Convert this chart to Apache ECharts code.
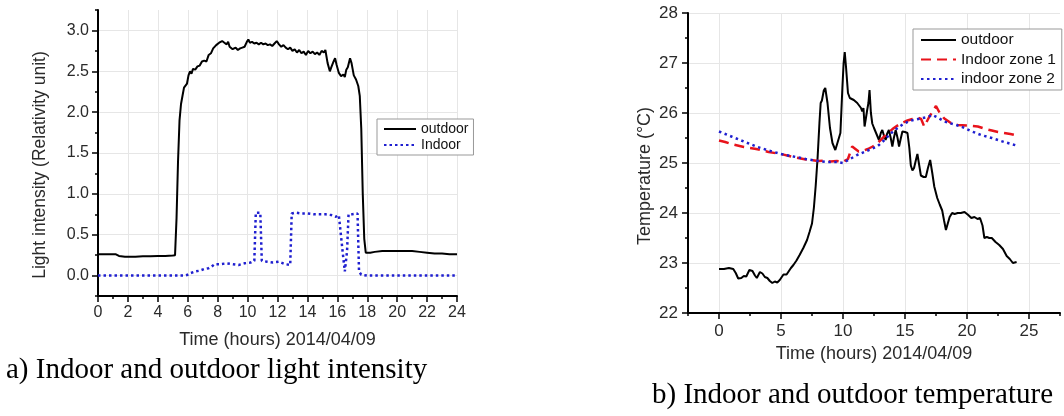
<!DOCTYPE html>
<html><head><meta charset="utf-8">
<script src="https://cdn.jsdelivr.net/npm/echarts@6/dist/echarts.min.js"></script>
<style>html,body{margin:0;padding:0;background:#fff}#c{width:1064px;height:416px}</style>
</head><body><div id="c"></div>
<script>
// ---- Data (hours, value) ----
const lightOutdoor = [
[0,0.26],[0.5,0.26],[1.0,0.26],[1.2,0.26],[1.4,0.24],[1.8,0.23],[2.5,0.23],[3,0.235],[3.5,0.235],[4,0.24],[4.5,0.24],[5.0,0.245],[5.15,0.25],
[5.25,0.7],[5.35,1.4],[5.45,1.9],[5.55,2.1],[5.65,2.2],[5.75,2.3],[5.85,2.28],[5.95,2.35],[6.05,2.45],[6.15,2.5],[6.25,2.47],[6.35,2.53],[6.5,2.52],
[6.65,2.56],[6.8,2.57],[6.95,2.62],[7.1,2.63],[7.25,2.62],[7.4,2.7],[7.55,2.72],[7.7,2.78],[7.8,2.76],[7.9,2.82],[8.0,2.8],[8.1,2.85],[8.2,2.83],
[8.3,2.87],[8.45,2.85],[8.6,2.83],[8.7,2.86],[8.8,2.8],[9.0,2.77],[9.2,2.79],[9.35,2.76],[9.5,2.78],[9.65,2.79],[9.8,2.8],[9.95,2.86],[10.05,2.89],
[10.15,2.85],[10.3,2.86],[10.45,2.84],[10.6,2.85],[10.75,2.83],[10.9,2.85],[11.05,2.83],[11.2,2.84],[11.35,2.82],[11.5,2.83],[11.65,2.81],[11.8,2.84],
[11.95,2.87],[12.1,2.83],[12.25,2.8],[12.4,2.82],[12.55,2.79],[12.7,2.77],[12.85,2.79],[13.0,2.75],[13.15,2.77],[13.3,2.73],[13.45,2.76],[13.6,2.72],
[13.75,2.74],[13.9,2.7],[14.05,2.75],[14.2,2.72],[14.35,2.74],[14.5,2.71],[14.65,2.73],[14.8,2.7],[14.95,2.75],[15.1,2.73],[15.2,2.76],[15.35,2.6],
[15.5,2.5],[15.6,2.55],[15.75,2.62],[15.85,2.66],[15.95,2.58],[16.1,2.48],[16.25,2.44],[16.4,2.46],[16.5,2.43],[16.6,2.52],[16.7,2.55],[16.85,2.66],
[16.95,2.6],[17.1,2.45],[17.25,2.4],[17.4,2.32],[17.5,2.2],[17.6,1.8],[17.7,1.0],[17.8,0.45],[17.9,0.28],[18.0,0.26],[18.2,0.28],[18.5,0.29],
[19.0,0.3],[19.5,0.3],[20.0,0.3],[20.5,0.3],[21.0,0.3],[21.5,0.29],[22.0,0.28],[22.5,0.27],[23.0,0.27],[23.5,0.26],[24,0.26]
];
const lightIndoor = [
[0,0],[1,0],[2,0],[3,0],[4,0],[5,0],[5.8,0],[6.0,0.01],[6.2,0.03],[6.5,0.05],[6.8,0.06],[7.1,0.08],[7.4,0.09],[7.6,0.11],[7.8,0.14],[8.2,0.14],
[8.6,0.15],[9.0,0.14],[9.4,0.13],[9.8,0.15],[10.2,0.16],[10.45,0.18],[10.55,0.77],[10.85,0.77],[10.95,0.18],[11.3,0.17],[11.7,0.16],[12.1,0.17],
[12.5,0.14],[12.85,0.13],[12.95,0.76],[13.2,0.77],[13.6,0.76],[14.0,0.76],[14.4,0.75],[14.8,0.75],[15.2,0.75],[15.6,0.74],[15.9,0.72],[16.1,0.74],
[16.2,0.74],[16.35,0.3],[16.5,0.05],[16.65,0.3],[16.75,0.75],[17.0,0.75],[17.35,0.76],[17.45,0.05],[17.6,0.01],[18,0],[19,0],[20,0],[21,0],[22,0],[23,0],[24,0]
];
const tempOutdoor = [
[0,22.88],[0.4,22.88],[0.8,22.9],[1.15,22.88],[1.35,22.8],[1.55,22.69],[1.8,22.7],[2.0,22.74],[2.2,22.73],[2.45,22.86],[2.7,22.84],[2.9,22.75],
[3.05,22.7],[3.3,22.82],[3.5,22.79],[3.7,22.72],[3.9,22.7],[4.1,22.64],[4.3,22.6],[4.5,22.63],[4.7,22.61],[4.9,22.66],[5.2,22.77],[5.45,22.77],
[5.6,22.8],[5.8,22.9],[6.0,22.96],[6.25,23.05],[6.5,23.16],[6.8,23.3],[7.1,23.46],[7.3,23.62],[7.5,23.79],[7.65,24.1],[7.8,24.55],[7.95,25.1],
[8.1,25.8],[8.2,26.2],[8.3,26.25],[8.45,26.45],[8.57,26.5],[8.75,26.2],[8.95,25.7],[9.15,25.4],[9.38,25.26],[9.55,25.4],[9.79,25.6],[9.95,26.5],
[10.05,27.0],[10.14,27.22],[10.25,26.9],[10.4,26.4],[10.55,26.3],[10.7,26.32],[10.87,26.26],[11.0,26.3],[11.15,26.2],[11.28,26.19],
[11.45,26.1],[11.55,26.03],[11.65,26.1],[11.74,25.73],[11.85,25.9],[11.95,26.06],[12.05,26.2],[12.14,26.46],[12.25,26.0],[12.36,25.79],[12.5,25.7],
[12.63,25.66],[12.9,25.46],[13.05,25.6],[13.17,25.66],[13.3,25.55],[13.44,25.46],[13.55,25.58],[13.7,25.66],[13.85,25.5],[13.98,25.33],[14.1,25.5],
[14.25,25.66],[14.4,25.5],[14.52,25.33],[14.65,25.48],[14.79,25.63],[15.0,25.62],[15.2,25.6],[15.35,25.3],[15.47,24.95],[15.6,24.85],[15.73,24.9],
[15.87,25.05],[16.0,25.18],[16.15,24.95],[16.28,24.75],[16.5,24.72],[16.68,24.72],[16.85,24.9],[17.03,25.06],[17.2,24.8],[17.36,24.53],[17.6,24.3],
[17.8,24.17],[18.0,24.05],[18.15,23.85],[18.3,23.66],[18.45,23.7],[18.6,23.92],[18.8,24.0],[19.0,23.98],[19.25,24.0],[19.5,24.0],[19.8,24.02],
[20.1,23.96],[20.35,23.9],[20.6,23.92],[20.85,23.88],[21.05,23.9],[21.25,23.75],[21.4,23.5],[21.6,23.52],[21.8,23.5],[22.0,23.5],[22.3,23.42],
[22.6,23.36],[22.9,23.28],[23.2,23.14],[23.45,23.08],[23.7,23.0],[23.85,22.99],[24.0,23.02]
];
const tempZone1 = [
[0,25.45],[0.5,25.42],[1,25.38],[2,25.32],[3,25.28],[4,25.22],[5,25.18],[6,25.12],[7,25.07],[8,25.04],[8.5,25.05],[9,25.03],[9.5,25.04],[10,25.02],
[10.4,25.08],[10.74,25.33],[11.0,25.28],[11.26,25.23],[11.6,25.24],[12,25.28],[12.4,25.33],[12.76,25.39],[13.2,25.5],[13.57,25.59],[14.1,25.7],
[14.65,25.79],[15.2,25.85],[15.6,25.88],[16.0,25.91],[16.3,25.88],[16.55,25.73],[16.95,25.92],[17.5,26.14],[17.8,26.0],[18.17,25.89],[18.7,25.8],
[19.25,25.76],[20,25.75],[20.87,25.73],[21.5,25.68],[22,25.65],[22.5,25.62],[23,25.6],[23.5,25.58],[24,25.55]
];
const tempZone2 = [
[0,25.63],[1,25.53],[2,25.43],[3,25.33],[4,25.25],[5,25.18],[6,25.13],[7,25.08],[8,25.04],[8.7,25.02],[9.52,25.02],[10,25.0],[10.5,25.07],[11.14,25.16],
[12,25.25],[12.76,25.33],[13.3,25.45],[13.84,25.59],[14.4,25.7],[14.92,25.79],[15.5,25.85],[16.28,25.89],[16.8,25.92],[17.22,25.96],[17.7,25.9],
[18.17,25.83],[19.52,25.73],[20.3,25.64],[21.14,25.56],[22,25.5],[23,25.42],[24,25.35]
];
const lightYMajorTicks = [0, 0.5, 1.0, 1.5, 2.0, 2.5, 3.0];
const tempXMajorTicks = [0, 5, 10, 15, 20, 25];
const lightLegend = ['outdoor', 'Indoor'];
const tempLegend = ['outdoor', 'Indoor zone 1', 'indoor zone 2'];
const captionA = 'a) Indoor and outdoor light intensity';
const captionB = 'b) Indoor and outdoor temperature';
const xName = 'Time (hours) 2014/04/09';
const lightYName = 'Light intensity (Relativity unit)';
const tempYName = 'Temperature (°C)';

// ---- Styling ----
const SANS = "'Liberation Sans', Arial, sans-serif";
const SERIF = "'Liberation Serif', 'Times New Roman', serif";
const TXT = '#2a2a2a';
const GRID = '#e6e6e6';
const axLine = { show: true, onZero: false, lineStyle: { color: '#000', width: 2 } };

const chart = echarts.init(document.getElementById('c'), null, { renderer: 'canvas' });
chart.setOption({
  animation: false,
  backgroundColor: '#fff',
  textStyle: { fontFamily: SANS },
  grid: [
    { left: 98, top: 10, width: 359, height: 286 },
    { left: 688, top: 13, width: 372, height: 300 }
  ],
  xAxis: [
    { type: 'value', gridIndex: 0, min: 0, max: 24, interval: 2,
      axisLine: axLine,
      axisTick: { show: true, length: 6, lineStyle: { color: '#000', width: 1.5 } },
      minorTick: { show: true, splitNumber: 2, length: 3, lineStyle: { color: '#000', width: 1.5 } },
      axisLabel: { fontSize: 16, color: TXT, margin: 9, fontFamily: SANS },
      splitLine: { show: true, lineStyle: { color: GRID, width: 1 } },
      name: xName, nameLocation: 'middle', nameGap: 35,
      nameTextStyle: { fontSize: 18, color: TXT, fontFamily: SANS } },
    { type: 'value', gridIndex: 1, min: -2.5, max: 27.5, interval: 2.5,
      axisLine: axLine,
      axisTick: { show: true, length: 3, lineStyle: { color: '#000', width: 1.5 } },
      axisLabel: { fontSize: 17, color: TXT, margin: 10, fontFamily: SANS,
        formatter: v => (Math.abs(v % 5) < 1e-6 ? String(v) : '') },
      splitLine: { show: true, lineStyle: { color: ['rgba(0,0,0,0)', GRID], width: 1 } },
      name: xName, nameLocation: 'middle', nameGap: 25,
      nameTextStyle: { fontSize: 18, color: TXT, fontFamily: SANS } },
    { type: 'value', gridIndex: 1, position: 'bottom', offset: 0, min: -2.5, max: 27.5,
      axisLine: { show: false, onZero: false },
      axisTick: { show: true, length: 6, customValues: tempXMajorTicks, lineStyle: { color: '#000', width: 1.5 } },
      axisLabel: { show: false }, splitLine: { show: false } }
  ],
  yAxis: [
    { type: 'value', gridIndex: 0, position: 'left', min: -0.25, max: 3.25, interval: 0.25,
      axisLine: axLine,
      axisTick: { show: true, length: 3, lineStyle: { color: '#000', width: 1.5 } },
      axisLabel: { fontSize: 16, color: TXT, margin: 9, fontFamily: SANS,
        formatter: v => { const r = Math.round(v * 2); return Math.abs(v * 2 - r) < 1e-6 ? v.toFixed(1) : ''; } },
      splitLine: { show: true, lineStyle: { color: ['rgba(0,0,0,0)', GRID], width: 1 } } },
    { type: 'value', gridIndex: 0, position: 'left', offset: 0, min: -0.25, max: 3.25,
      axisLine: { show: false, onZero: false },
      axisTick: { show: true, length: 6, customValues: lightYMajorTicks, lineStyle: { color: '#000', width: 1.5 } },
      axisLabel: { show: false }, splitLine: { show: false } },
    { type: 'value', gridIndex: 1, position: 'left', min: 22, max: 28, interval: 1,
      axisLine: axLine,
      axisTick: { show: true, length: 6, lineStyle: { color: '#000', width: 1.5 } },
      minorTick: { show: true, splitNumber: 2, length: 3, lineStyle: { color: '#000', width: 1.5 } },
      axisLabel: { fontSize: 17, color: TXT, margin: 10, fontFamily: SANS },
      splitLine: { show: true, lineStyle: { color: GRID, width: 1 } } }
  ],
  legend: [
    { data: lightLegend, orient: 'vertical', left: 377, top: 119, selectedMode: false,
      itemWidth: 32, itemHeight: 14, itemGap: 2, padding: [3, 5, 3, 6],
      itemStyle: { opacity: 0 },
      borderColor: '#999', borderWidth: 1, backgroundColor: '#fff',
      textStyle: { fontSize: 14, color: '#111', fontFamily: SANS } },
    { data: tempLegend, orient: 'vertical', left: 913, top: 29, selectedMode: false,
      itemWidth: 35, itemHeight: 16, itemGap: 3.5, padding: [3, 6, 3, 7],
      itemStyle: { opacity: 0 },
      borderColor: '#999', borderWidth: 1, backgroundColor: '#fff',
      textStyle: { fontSize: 15.5, color: '#111', fontFamily: SANS } }
  ],
  series: [
    { name: 'outdoor', type: 'line', xAxisIndex: 0, yAxisIndex: 0, data: lightOutdoor,
      symbol: 'none', lineStyle: { color: '#000', width: 2 }, itemStyle: { color: '#000' } },
    { name: 'Indoor', type: 'line', xAxisIndex: 0, yAxisIndex: 0, data: lightIndoor,
      symbol: 'none', lineStyle: { color: '#1f1fd0', width: 2.5, type: [2.5, 3] }, itemStyle: { color: '#1f1fd0' } },
    { name: 'outdoor', type: 'line', xAxisIndex: 1, yAxisIndex: 2, data: tempOutdoor,
      symbol: 'none', lineStyle: { color: '#000', width: 2 }, itemStyle: { color: '#000' } },
    { name: 'Indoor zone 1', type: 'line', xAxisIndex: 1, yAxisIndex: 2, data: tempZone1,
      symbol: 'none', lineStyle: { color: '#e8131b', width: 2.5, type: [10, 6] }, itemStyle: { color: '#e8131b' } },
    { name: 'indoor zone 2', type: 'line', xAxisIndex: 1, yAxisIndex: 2, data: tempZone2,
      symbol: 'none', lineStyle: { color: '#1f1fd0', width: 2.5, type: [2.5, 3.5] }, itemStyle: { color: '#1f1fd0' } }
  ],
  graphic: [
    { type: 'text', x: 40, y: 165, rotation: Math.PI / 2,
      style: { text: lightYName, font: "17.5px " + SANS, fill: TXT, textAlign: 'center', textVerticalAlign: 'middle' } },
    { type: 'text', x: 645, y: 176, rotation: Math.PI / 2,
      style: { text: tempYName, font: "18px " + SANS, fill: TXT, textAlign: 'center', textVerticalAlign: 'middle' } },
    { type: 'text', x: 6, y: 385,
      style: { text: captionA, font: "29px " + SERIF, fill: '#000', textAlign: 'left', textVerticalAlign: 'bottom' } },
    { type: 'text', x: 652, y: 410,
      style: { text: captionB, font: "29px " + SERIF, fill: '#000', textAlign: 'left', textVerticalAlign: 'bottom' } }
  ]
});
</script>
</body></html>
